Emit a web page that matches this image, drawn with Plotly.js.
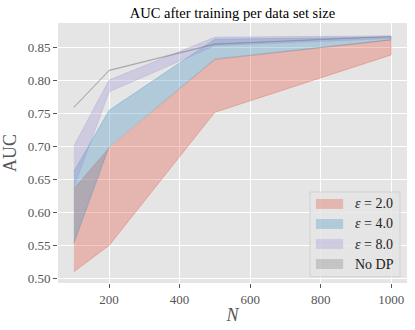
<!DOCTYPE html>
<html>
<head>
<meta charset="utf-8">
<script src="https://cdn.plot.ly/plotly-3.0.1.min.js"></script>
<style>
  html, body { margin: 0; padding: 0; background: #ffffff; }
  #chart { width: 415px; height: 330px; }
</style>
</head>
<body>
<div id="chart"></div>
<script>
    // data set sizes
    var sizes = [100, 200, 500, 1000];

    // min / max AUC over runs, per privacy budget
    var eps2Low  = [0.510, 0.550, 0.752, 0.839];
    var eps2High = [0.636, 0.698, 0.832, 0.862];
    var eps4Low  = [0.553, 0.700, 0.833, 0.862];
    var eps4High = [0.662, 0.755, 0.863, 0.866];
    var eps8Low  = [0.638, 0.783, 0.853, 0.864];
    var eps8High = [0.701, 0.801, 0.866, 0.868];
    var noDpLow  = [0.759, 0.815, 0.855, 0.866];
    var noDpHigh = [0.760, 0.816, 0.856, 0.867];

    var seriesNames = ['<i>ε</i> = 2.0', '<i>ε</i> = 4.0', '<i>ε</i> = 8.0', 'No DP'];
    var seriesColors = ['226,74,51', '52,138,189', '152,142,213', '119,119,119'];
    var yTicks = [0.50, 0.55, 0.60, 0.65, 0.70, 0.75, 0.80, 0.85];
    var xTicks = [200, 400, 600, 800, 1000];

    function band(low, high, name, rgb) {
        var xs = sizes.concat(sizes.slice().reverse());
        var ys = low.concat(high.slice().reverse());
        return {
            x: xs,
            y: ys,
            type: 'scatter',
            mode: 'lines',
            fill: 'toself',
            name: name,
            showlegend: false,
            fillcolor: 'rgba(' + rgb + ',0.3)',
            line: {color: 'rgba(' + rgb + ',0.3)', width: 1},
            hoverinfo: 'skip'
        };
    }

    var traces = [];
    traces.push(band(eps2Low, eps2High, seriesNames[0], seriesColors[0]));
    traces.push(band(eps4Low, eps4High, seriesNames[1], seriesColors[1]));
    traces.push(band(eps8Low, eps8High, seriesNames[2], seriesColors[2]));
    traces.push(band(noDpLow, noDpHigh, seriesNames[3], seriesColors[3]));

    var serif = 'Liberation Serif, DejaVu Serif, serif';

    // matplotlib style legend box, drawn in paper coordinates
    var shapes = [{
        type: 'rect', xref: 'paper', yref: 'paper', layer: 'above',
        x0: 0.722, x1: 0.980, y0: 0.024, y1: 0.350,
        fillcolor: 'rgba(229,229,229,0.8)',
        line: {color: 'rgba(204,204,204,0.8)', width: 1}
    }];
    var annotations = [];
    var rowY = [0.304, 0.227, 0.150, 0.073];
    for (var i = 0; i < seriesNames.length; i++) {
        shapes.push({
            type: 'rect', xref: 'paper', yref: 'paper', layer: 'above',
            x0: 0.739, x1: 0.817, y0: rowY[i] - 0.019, y1: rowY[i] + 0.019,
            fillcolor: 'rgba(' + seriesColors[i] + ',0.3)',
            line: {width: 0}
        });
        annotations.push({
            xref: 'paper', yref: 'paper', x: 0.846, y: rowY[i],
            xanchor: 'left', yanchor: 'middle', showarrow: false,
            text: seriesNames[i],
            font: {family: serif, size: 14, color: '#222222'}
        });
    }

    var layout = {
        width: 415,
        height: 330,
        margin: {l: 58, r: 8, t: 23, b: 47},
        paper_bgcolor: '#ffffff',
        plot_bgcolor: '#e5e5e5',
        font: {family: serif, color: '#555555', size: 13},
        title: {
            text: 'AUC after training per data set size',
            font: {family: serif, size: 14.5, color: '#000000'},
            x: 0.5,
            xref: 'paper',
            y: 0.96,
            yanchor: 'middle'
        },
        xaxis: {
            range: [55, 1045],
            tickvals: xTicks,
            ticks: 'outside',
            ticklen: 4,
            tickcolor: '#555555',
            gridcolor: '#ffffff',
            gridwidth: 1,
            zeroline: false,
            showline: false,
            tickfont: {size: 13, color: '#555555'},
            title: {text: '<i>N</i>', font: {size: 18, color: '#555555'}, standoff: 2}
        },
        yaxis: {
            range: [0.493, 0.8875],
            tickvals: yTicks,
            tickformat: '.2f',
            ticks: 'outside',
            ticklen: 4,
            tickcolor: '#555555',
            gridcolor: '#ffffff',
            gridwidth: 1,
            zeroline: false,
            showline: false,
            tickfont: {size: 13, color: '#555555'},
            title: {text: 'AUC', font: {size: 18, color: '#555555'}, standoff: 8}
        },
        shapes: shapes,
        annotations: annotations,
        showlegend: false
    };

    Plotly.newPlot('chart', traces, layout, {displayModeBar: false, staticPlot: true});
</script>
</body>
</html>
